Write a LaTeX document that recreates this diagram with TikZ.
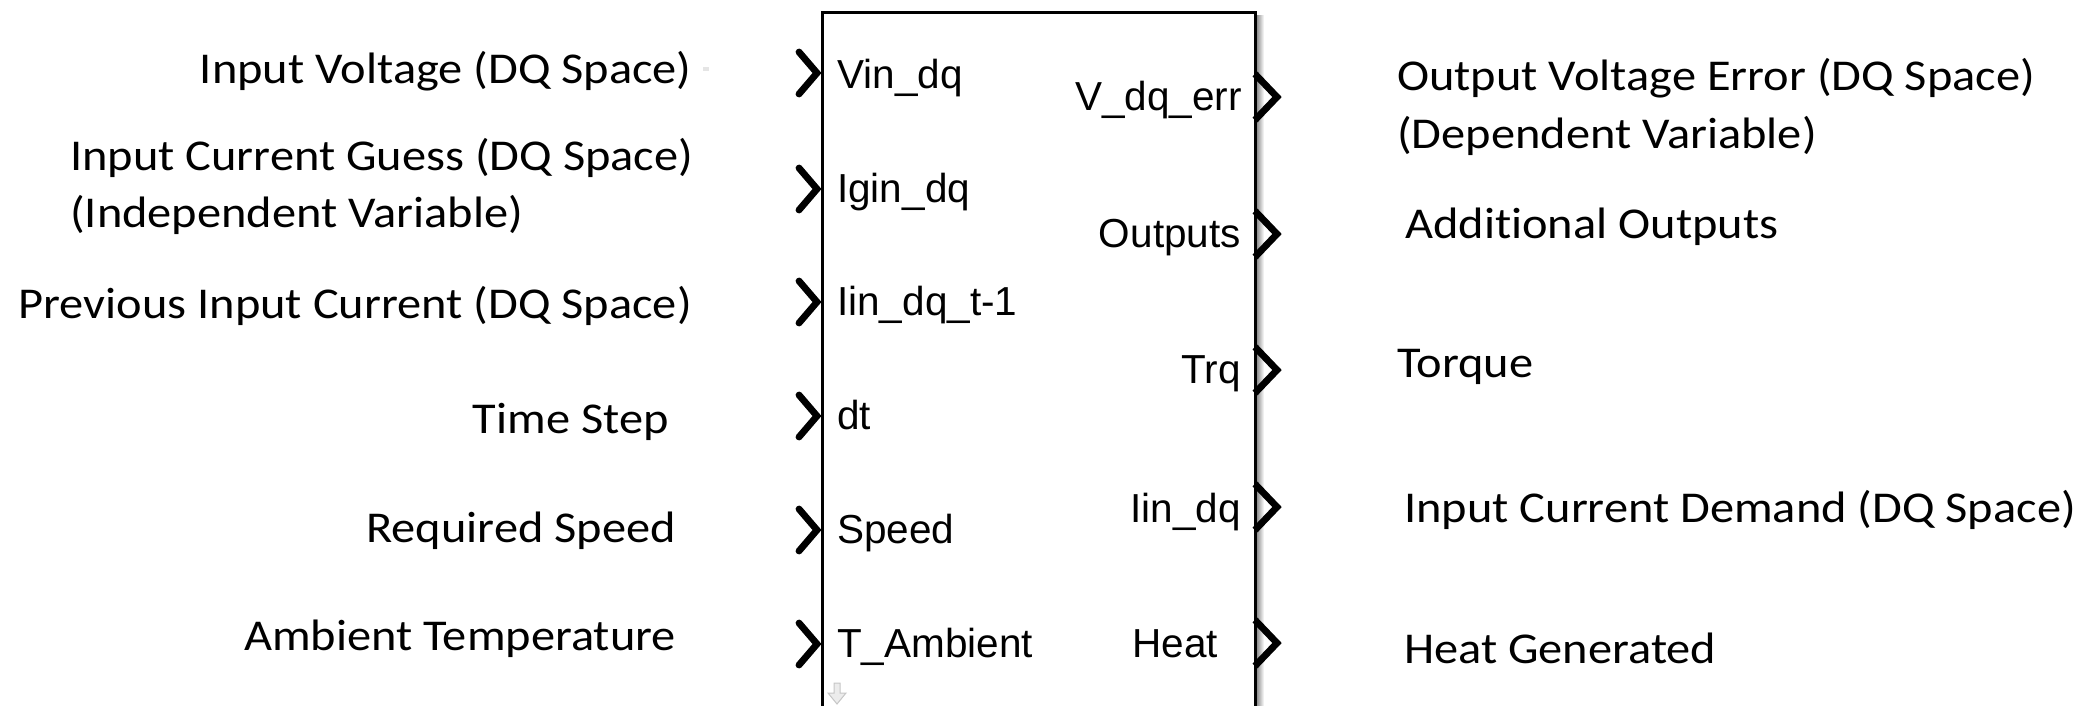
\documentclass[tikz,border=0pt]{standalone}
\usepackage{fontspec}
\newfontfamily\calfont[FakeStretch=1.1,Ligatures=NoCommon]{Carlito}
\newfontfamily\arialfont{Liberation Sans}
\begin{document}
\begin{tikzpicture}[x=1pt,y=-1pt,
  lbl/.style={inner sep=0pt, font=\calfont\fontsize{44}{53}\selectfont},
  plbl/.style={inner sep=0pt, font=\arialfont\fontsize{40.5}{48}\selectfont},
  inport/.style={line width=6.8pt, line cap=round, line join=miter},
  outport/.style={line width=6.8pt, line cap=butt, line join=miter},
  inchev/.pic={\draw[inport] (-22,-21) -- (-4,-0) -- (-22,21);},
  outchev/.pic={\draw[outport] (1,-23) -- (23,0) -- (1,23);}]
\useasboundingbox (0,0) rectangle (2088,705);
\clip (0,0) rectangle (2088,705);
% block shadow
\shade[left color=black!55, right color=white] (1255,15) rectangle (1264,705);
% block
\node[draw, line width=2.5pt, inner sep=0pt, minimum width=433pt,
      minimum height=740pt, anchor=north west] (blk) at (821,11) {};
% ports
\foreach \n/\y in {1/73,2/189,3/302,4/416,5/530,6/644}
  \coordinate (in\n) at (821,\y);
\foreach \n/\y in {1/97,2/234,3/370,4/507,5/643}
  \coordinate (out\n) at (1254,\y);
\foreach \n in {1,...,6} \pic at (in\n) {inchev};
\foreach \n in {1,...,5} \pic at (out\n) {outchev};
% port labels inside the block
\node[plbl, anchor=base west] (pin1) at (837,88) {Vin\_dq};
\node[plbl, anchor=base west] (pin2) at (837,202) {Igin\_dq};
\node[plbl, anchor=base west] (pin3) at (837,315) {Iin\_dq\_t-1};
\node[plbl, anchor=base west] (pin4) at (837,429) {dt};
\node[plbl, anchor=base west] (pin5) at (837,543) {Speed};
\node[plbl, anchor=base west] (pin6) at (837,657) {T\_Ambient};
\node[plbl, anchor=base east] (pout1) at (1242,110) {V\_dq\_err};
\node[plbl, anchor=base east] (pout2) at (1241,247) {Outputs};
\node[plbl, anchor=base east] (pout3) at (1241,383) {Trq};
\node[plbl, anchor=base east] (pout4) at (1241,522) {Iin\_dq};
\node[plbl, anchor=base east] (pout5) at (1218,657) {Heat};
% input descriptions
\node[lbl, anchor=base east] (l1) at (692,83) {Input Voltage (DQ Space)};
\node[lbl, anchor=base west] (l2a) at (70,170) {Input Current Guess (DQ Space)};
\node[lbl, anchor=base west] (l2b) at (70,227) {(Independent Variable)};
\node[lbl, anchor=base east] (l3) at (692,318) {Previous Input Current (DQ Space)};
\node[lbl, anchor=base east] (l4) at (669,433) {Time Step};
\node[lbl, anchor=base east] (l5) at (676,542) {Required Speed};
\node[lbl, anchor=base east] (l6) at (676,650) {Ambient Temperature};
% output descriptions
\node[lbl, anchor=base west] (r1a) at (1397,90) {Output Voltage Error (DQ Space)};
\node[lbl, anchor=base west] (r1b) at (1397,148) {(Dependent Variable)};
\node[lbl, anchor=base west] (r2) at (1405,238) {Additional Outputs};
\node[lbl, anchor=base west] (r3) at (1397,377) {Torque};
\node[lbl, anchor=base west] (r4) at (1404,522) {Input Current Demand (DQ Space)};
\node[lbl, anchor=base west] (r5) at (1404,663) {Heat Generated};
% small marks
\draw[gray!45, fill=gray!15, line width=1pt] (834,683) -- (840,683) -- (840,693) -- (846,693) -- (837,704) -- (828,693) -- (834,693) -- cycle;
\fill[gray!20] (703,67) rectangle (709,71);
\end{tikzpicture}
\end{document}
